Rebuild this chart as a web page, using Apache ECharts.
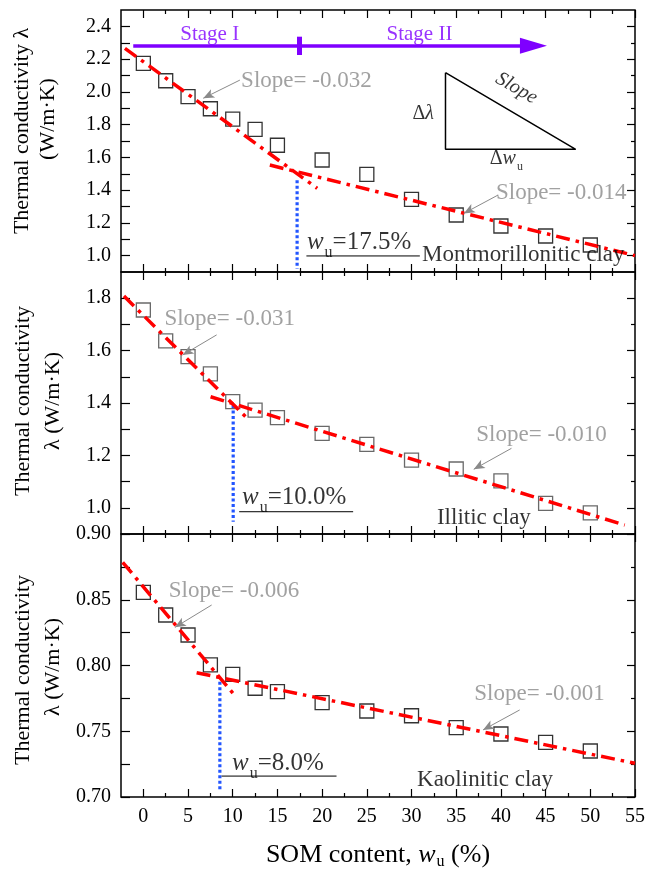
<!DOCTYPE html>
<html><head><meta charset="utf-8">
<script src="https://cdn.jsdelivr.net/npm/echarts@6/dist/echarts.min.js"></script>
<style>html,body{margin:0;padding:0;background:#fff}#c{width:646px;height:872px}</style>
</head><body><div id="c"></div>
<script>
// ---------- data ----------
const somContent = [0, 2.5, 5, 7.5, 10, 12.5, 15, 20, 25, 30, 35, 40, 45, 50];
const montmorillonitic = [2.174, 2.068, 1.971, 1.897, 1.834, 1.771, 1.674, 1.584, 1.496, 1.344, 1.248, 1.181, 1.120, 1.065];
const illitic = [1.755, 1.637, 1.577, 1.511, 1.405, 1.373, 1.344, 1.284, 1.242, 1.182, 1.148, 1.103, 1.017, 0.981];
const kaolinitic = [0.8556, 0.8384, 0.8232, 0.8004, 0.7933, 0.7827, 0.7801, 0.7717, 0.7654, 0.7618, 0.7527, 0.7479, 0.7416, 0.7350];

const xTickLabels = [0, 5, 10, 15, 20, 25, 30, 35, 40, 45, 50, 55];
const xMinorTicks = [2.5, 7.5, 12.5, 17.5, 22.5, 27.5, 32.5, 37.5, 42.5, 47.5, 52.5];
const yTickLabelsMont = [1.0, 1.2, 1.4, 1.6, 1.8, 2.0, 2.2, 2.4];
const yMinorMont = [1.1, 1.3, 1.5, 1.7, 1.9, 2.1, 2.3];
const yTickLabelsIll = [1.0, 1.2, 1.4, 1.6, 1.8];
const yMinorIll = [1.1, 1.3, 1.5, 1.7];
const yTickLabelsKao = [0.70, 0.75, 0.80, 0.85, 0.90];
const yMinorKao = [0.725, 0.775, 0.825, 0.875];

// fitted stage lines (endpoints)
const montStage1 = [[-2.06, 2.266], [19.45, 1.411]];
const montStage2 = [[14.15, 1.553], [55, 1.0]];
const illStage1 = [[-2.17, 1.808], [11.73, 1.338]];
const illStage2 = [[7.52, 1.424], [53.85, 0.934]];
const kaoStage1 = [[-2.31, 0.8785], [10.35, 0.7763]];
const kaoStage2 = [[5.96, 0.7945], [55, 0.7256]];

// threshold (w_u) dotted lines: [x, yTop, yBottom]
const montThreshold = [17.2, 1.46, 0.92];
const illThreshold = [10.05, 1.392, 0.947];
const kaoThreshold = [8.56, 0.7877, 0.704];

// ---------- layout / style ----------
const FONT = 'Liberation Serif';
const GREY = '#8a8a8a';
const PURPLE = '#7f00ff';
const RED = '#ff0000';
const BLUE = '#2255ff';

const grids = [
  {left: 121, right: 11, top: 10, height: 262},
  {left: 121, right: 11, top: 272, height: 262},
  {left: 121, right: 11, top: 534, height: 263}
];
const yRanges = [[0.9, 2.5], [0.9, 1.9], [0.7, 0.9]];
const yMajor = [yTickLabelsMont, yTickLabelsIll, yTickLabelsKao];
const yMinor = [yMinorMont, yMinorIll, yMinorKao];
const yDigits = [1, 1, 2];

const subRich = (size, drop) => ({
  w: {fontFamily: FONT, fontStyle: 'italic', fontSize: size, color: '#000'},
  s: {fontFamily: FONT, fontSize: Math.round(size * 0.62), color: '#000', padding: [Math.round(size * (drop || 0.85)), 0, 0, 1]},
  t: {fontFamily: FONT, fontSize: size, color: '#000'},
  d: {fontFamily: FONT, fontSize: size, color: '#000'},
  l: {fontFamily: FONT, fontStyle: 'italic', fontSize: size, color: '#000'}
});

function tick(vals, len) {
  return {show: true, inside: true, length: len, customValues: vals, lineStyle: {color: '#000', width: 1.2}};
}

const xAxes = [], yAxes = [];
grids.forEach((g, i) => {
  const xb = {gridIndex: i, type: 'value', min: -2.5, max: 55, axisLine: {show: false, onZero: false}, splitLine: {show: false}};
  xAxes.push(Object.assign({}, xb, {
    position: 'bottom', axisTick: tick(xTickLabels, 8),
    axisLabel: {show: i === 2, customValues: xTickLabels, margin: 10, fontFamily: FONT, fontSize: 20, color: '#000'},
    name: i === 2 ? '{t|SOM content, }{w|w}{s|u}{t| (%)}' : '',
    nameLocation: 'middle', nameGap: 44,
    nameTextStyle: {fontFamily: FONT, fontSize: 26, color: '#000', rich: subRich(26, 0.5)}
  }));
  xAxes.push(Object.assign({}, xb, {position: 'bottom', axisTick: tick(xMinorTicks, 4), axisLabel: {show: false}}));
  xAxes.push(Object.assign({}, xb, {position: 'top', axisTick: tick(xTickLabels, 8), axisLabel: {show: false}}));
  xAxes.push(Object.assign({}, xb, {position: 'top', axisTick: tick(xMinorTicks, 4), axisLabel: {show: false}}));

  const yb = {gridIndex: i, type: 'value', min: yRanges[i][0], max: yRanges[i][1], axisLine: {show: false, onZero: false}, splitLine: {show: false}};
  yAxes.push(Object.assign({}, yb, {
    position: 'left', axisTick: tick(yMajor[i], 9),
    axisLabel: {customValues: yMajor[i], margin: 10, fontFamily: FONT, fontSize: 20, color: '#000',
      formatter: v => Number(v).toFixed(yDigits[i])}
  }));
  yAxes.push(Object.assign({}, yb, {position: 'left', axisTick: tick(yMinor[i], 9), axisLabel: {show: false}}));
  yAxes.push(Object.assign({}, yb, {position: 'right', axisTick: tick(yMajor[i], 8), axisLabel: {show: false}}));
  yAxes.push(Object.assign({}, yb, {position: 'right', axisTick: tick(yMinor[i], 4), axisLabel: {show: false}}));
});

const panels = [
  {values: montmorillonitic, s1: montStage1, s2: montStage2, th: montThreshold, sym: '#000'},
  {values: illitic, s1: illStage1, s2: illStage2, th: illThreshold, sym: '#444'},
  {values: kaolinitic, s1: kaoStage1, s2: kaoStage2, th: kaoThreshold, sym: '#000'}
];

// annotation positions (data coordinates)
const slopeArrows = [
  [[[10.8, 2.072], [6.70, 1.961]], [[39.68, 1.370], [35.85, 1.258]]],
  [[[8.2, 1.660], [4.39, 1.583]], [[41.18, 1.227], [36.96, 1.147]]],
  [[[7.64, 0.846], [3.53, 0.829]], [[42.1, 0.7662], [38.0, 0.751]]]
];
const underlines = [
  [[18.24, 0.998], [30.93, 0.998]],
  [[10.72, 0.985], [23.47, 0.985]],
  [[8.75, 0.7159], [21.61, 0.7159]]
];
const textItems = [
  [
    {p: [7.42, 2.353], t: 'Stage I', pos: 'inside', st: {fontFamily: FONT, fontSize: 21, color: PURPLE}},
    {p: [30.89, 2.353], t: 'Stage II', pos: 'inside', st: {fontFamily: FONT, fontSize: 21, color: PURPLE}},
    {p: [10.88, 2.068], t: 'Slope= -0.032', pos: 'right', st: {fontFamily: FONT, fontSize: 23, color: GREY}},
    {p: [39.39, 1.384], t: 'Slope= -0.014', pos: 'right', st: {fontFamily: FONT, fontSize: 23, color: GREY}},
    {p: [41.74, 2.022], t: 'Slope', pos: 'inside', st: {fontFamily: FONT, fontSize: 20, fontStyle: 'italic', color: '#000', rotate: -30}},
    {p: [31.3, 1.869], t: '{d|Δ}{l|λ}', pos: 'inside', st: {rich: subRich(20)}},
    {p: [40.6, 1.594], t: '{d|Δ}{w|w}{s|u}', pos: 'inside', st: {rich: subRich(20)}},
    {p: [18.24, 1.083], t: '{w|w}{s|u}{t|=17.5%}', pos: 'right', st: {rich: subRich(25)}},
    {p: [31.12, 1.004], t: 'Montmorillonitic clay', pos: 'right', st: {fontFamily: FONT, fontSize: 23, color: '#000'}}
  ],
  [
    {p: [2.30, 1.719], t: 'Slope= -0.031', pos: 'right', st: {fontFamily: FONT, fontSize: 23, color: GREY}},
    {p: [37.19, 1.278], t: 'Slope= -0.010', pos: 'right', st: {fontFamily: FONT, fontSize: 23, color: GREY}},
    {p: [10.99, 1.041], t: '{w|w}{s|u}{t|=10.0%}', pos: 'right', st: {rich: subRich(25)}},
    {p: [32.79, 0.96], t: 'Illitic clay', pos: 'right', st: {fontFamily: FONT, fontSize: 23, color: '#000'}}
  ],
  [
    {p: [2.78, 0.8569], t: 'Slope= -0.006', pos: 'right', st: {fontFamily: FONT, fontSize: 23, color: GREY}},
    {p: [36.96, 0.7781], t: 'Slope= -0.001', pos: 'right', st: {fontFamily: FONT, fontSize: 23, color: GREY}},
    {p: [9.87, 0.7259], t: '{w|w}{s|u}{t|=8.0%}', pos: 'right', st: {rich: subRich(25)}},
    {p: [30.56, 0.7129], t: 'Kaolinitic clay', pos: 'right', st: {fontFamily: FONT, fontSize: 23, color: '#000'}}
  ]
];
const triangle = [[33.8, 2.117], [33.8, 1.649], [48.37, 1.649], [33.8, 2.117]];
const stageArrow = [[-1.13, 2.282], [43.64, 2.282]];
const stageMark = [[17.4, 2.337], [17.4, 2.225]];

const series = [];
panels.forEach((pn, i) => {
  const ax = {xAxisIndex: i * 4, yAxisIndex: i * 4};
  series.push(Object.assign({
    type: 'scatter', symbol: 'rect', symbolSize: 14, z: 2, silent: true,
    itemStyle: {color: 'rgba(0,0,0,0)', borderColor: pn.sym, borderWidth: 1.3},
    data: somContent.map((x, k) => [x, pn.values[k]]),
    markLine: {
      silent: true, animation: false, symbol: ['none', 'arrow'], symbolSize: [7, 11],
      label: {show: false}, lineStyle: {color: GREY, width: 1, type: 'solid'},
      data: slopeArrows[i].map(a => [{coord: a[0]}, {coord: a[1]}])
    }
  }, ax));
  [pn.s1, pn.s2].forEach(seg => series.push(Object.assign({
    type: 'line', data: seg, symbol: 'none', z: 4, silent: true,
    lineStyle: {color: RED, width: 3.5, type: [14, 6, 3.5, 6], cap: 'butt'}
  }, ax)));
  series.push(Object.assign({
    type: 'line', data: [[pn.th[0], pn.th[1]], [pn.th[0], pn.th[2]]], symbol: 'none', z: 3, silent: true,
    lineStyle: {color: BLUE, width: 3.2, type: [3, 2.5]}
  }, ax));
  series.push(Object.assign({
    type: 'line', data: underlines[i], symbol: 'none', z: 3, silent: true,
    lineStyle: {color: '#000', width: 1}
  }, ax));
  series.push(Object.assign({
    type: 'scatter', symbolSize: 1, z: 5, silent: true, itemStyle: {color: 'rgba(0,0,0,0)'},
    data: textItems[i].map(it => ({
      value: it.p,
      label: Object.assign({show: true, position: it.pos, distance: 0, formatter: it.t}, it.st)
    }))
  }, ax));
});
// top panel extras: schematic triangle + stage arrow
series.push({
  type: 'line', xAxisIndex: 0, yAxisIndex: 0, data: triangle, symbol: 'none', z: 3, silent: true,
  lineStyle: {color: '#000', width: 1.5},
  markLine: {
    silent: true, animation: false, label: {show: false},
    data: [
      [{coord: stageArrow[0], symbol: 'none', lineStyle: {color: PURPLE, width: 3.5, type: 'solid'}},
       {coord: stageArrow[1], symbol: 'triangle', symbolSize: [16, 27]}],
      [{coord: stageMark[0], symbol: 'none', lineStyle: {color: PURPLE, width: 5, type: 'solid'}},
       {coord: stageMark[1], symbol: 'none'}]
    ]
  }
});

const titleFont = '22px "Liberation Serif"';
const yTitles = [
  {t: 'Thermal conductivity λ', x: 22, y: 131},
  {t: '(W/m·K)', x: 48, y: 119},
  {t: 'Thermal conductivity', x: 23, y: 401},
  {t: 'λ (W/m·K)', x: 53, y: 401},
  {t: 'Thermal conductivity', x: 23, y: 670},
  {t: 'λ (W/m·K)', x: 53, y: 667}
];

const chart = echarts.init(document.getElementById('c'), null, {renderer: 'canvas'});
chart.setOption({
  animation: false,
  backgroundColor: '#fff',
  grid: grids.map(g => Object.assign({show: true, borderColor: '#000', borderWidth: 1.5, backgroundColor: 'rgba(0,0,0,0)', outerBoundsMode: 'none', containLabel: false}, g)),
  xAxis: xAxes,
  yAxis: yAxes,
  series: series,
  graphic: yTitles.map(o => ({
    type: 'text', x: o.x, y: o.y, rotation: Math.PI / 2,
    style: {text: o.t, font: titleFont, fill: '#000', align: 'center', verticalAlign: 'middle'}
  }))
});
</script></body></html>
